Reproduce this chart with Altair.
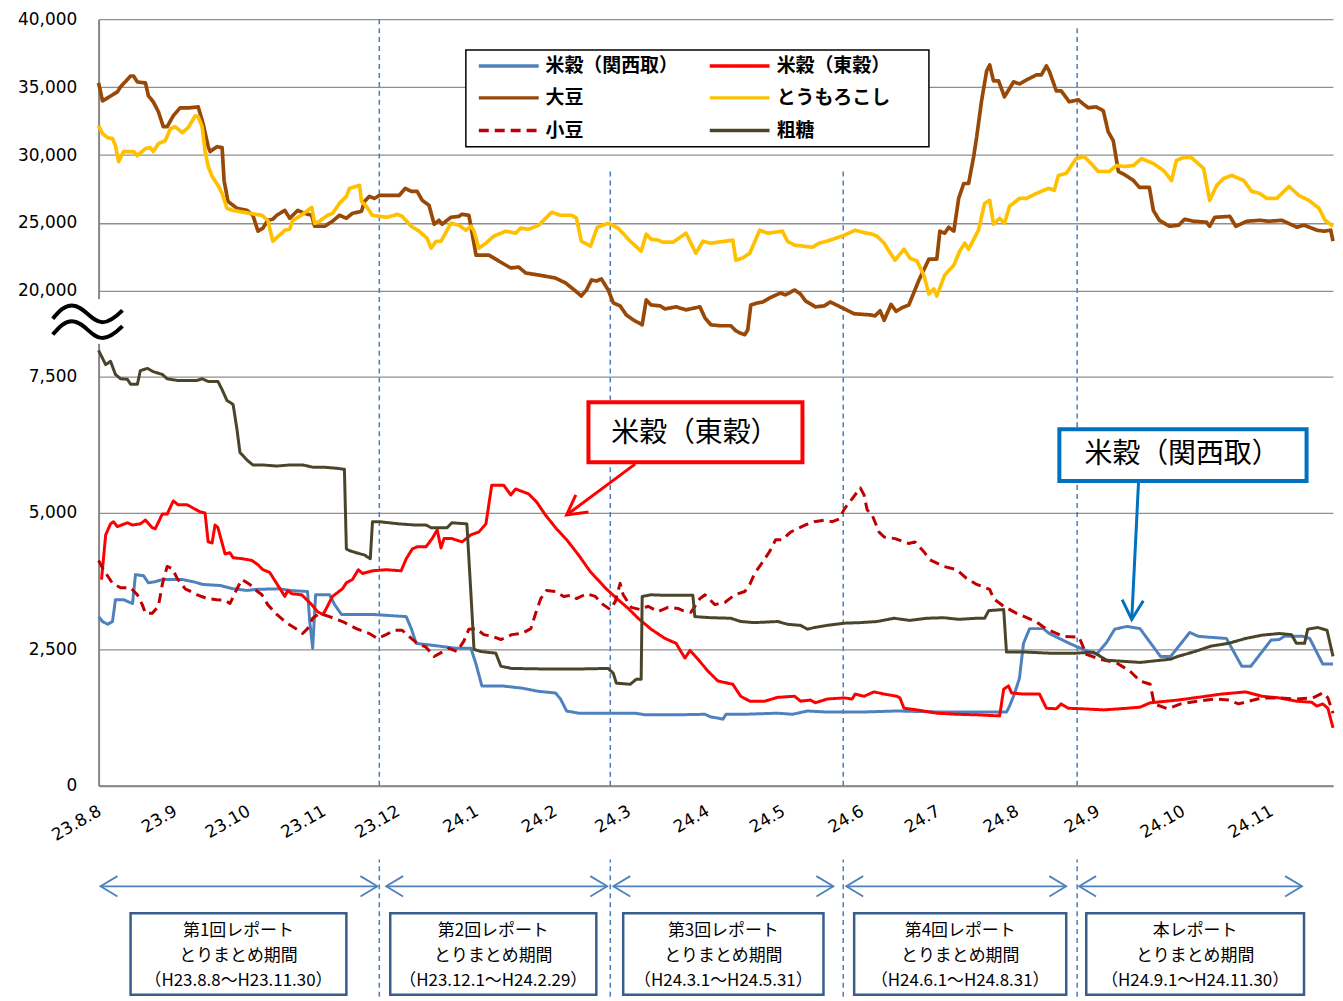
import altair as alt
import pandas as pd

BASE = pd.Timestamp("2011-08-08")
JP = "Noto Sans CJK JP"

series_names = ["米穀（関西取）", "米穀（東穀）", "大豆", "とうもろこし", "小豆", "粗糖"]
series_colors = ["#4f81bd", "#ff0000", "#984807", "#ffc000", "#c00000", "#4a452a"]
series_dash = [[1, 0], [1, 0], [1, 0], [1, 0], [10, 6], [1, 0]]
series_width = [3, 3, 3.7, 3.7, 3, 3]

# x values: days since 2011-08-08 (H23.8.8); y values: prices
kansai_days = [0, 1.6, 3.7, 5.7, 6.9, 10.2, 13.9, 15.1, 18.4, 20.4, 23.2, 26.1, 34.3, 38.7, 42.8, 49.8, 55.1, 60.8, 64.8, 74.2, 78.3, 85.6, 86.5, 87.7, 88.9, 94.6, 96.7, 99.5, 112.2, 118.9, 125.6, 127.6, 129.5, 138.5, 145.2, 151.1, 153.1, 155.4, 163.3, 171.1, 177.8, 184.4, 186.4, 188.8, 193.5, 205.2, 215.8, 219.8, 232.7, 243.4, 245.7, 248.5, 250.5, 251.7, 259.1, 272.1, 278.0, 283.9, 291.7, 304.7, 319.1, 337.5, 362.2, 363.4, 365.3, 367.3, 368.9, 371.3, 376.7, 379.0, 386.9, 392.1, 396.8, 400.4, 403.2, 407.5, 412.1, 419.3, 422.9, 429.6, 432.5, 437.1, 442.5, 447.9, 451.1, 458.2, 461.1, 462.9, 469.3, 471.8, 476.4, 480]
kansai_vals = [3100, 3010, 2960, 3010, 3410, 3410, 3340, 3870, 3850, 3720, 3740, 3780, 3780, 3740, 3690, 3670, 3610, 3580, 3600, 3610, 3580, 3560, 3010, 2520, 3500, 3500, 3320, 3140, 3140, 3120, 3100, 2880, 2610, 2560, 2520, 2520, 2230, 1830, 1830, 1790, 1730, 1700, 1590, 1370, 1330, 1330, 1330, 1300, 1300, 1310, 1260, 1240, 1220, 1310, 1310, 1330, 1310, 1370, 1350, 1350, 1370, 1350, 1350, 1460, 1680, 1970, 2610, 2880, 2880, 2790, 2610, 2500, 2410, 2630, 2870, 2920, 2880, 2370, 2370, 2810, 2740, 2720, 2700, 2190, 2190, 2670, 2680, 2740, 2740, 2700, 2230, 2230]

tokyo_days = [1.2, 2.9, 4.9, 6.1, 7.7, 11.8, 13.9, 17.1, 19.2, 22.0, 23.2, 26.1, 28.1, 30.6, 32.6, 36.3, 38.7, 41.6, 43.6, 44.9, 46.5, 47.7, 48.9, 51.8, 53.8, 55.1, 59.1, 62.8, 65.3, 67.3, 70.1, 76.3, 77.5, 79.1, 83.2, 87.3, 89.7, 91.8, 92.6, 95.8, 99.9, 101.5, 104.0, 106.4, 108.1, 112.2, 117.7, 123.6, 125.6, 128.0, 129.9, 133.4, 135.8, 137.8, 139.3, 140.5, 143.6, 147.6, 151.1, 154.2, 157.0, 159.3, 164.0, 166.8, 168.7, 173.8, 177.0, 180.5, 184.8, 188.8, 193.5, 198.2, 204.4, 209.1, 213.1, 217.0, 222.1, 227.6, 232.0, 233.9, 235.5, 237.5, 240.6, 244.6, 248.5, 254.4, 257.5, 261.1, 267.0, 272.1, 278.8, 281.1, 285.1, 287.0, 291.7, 298.4, 301.5, 302.7, 306.2, 310.1, 314.1, 319.1, 320.3, 321.9, 327.0, 334.8, 342.6, 350.5, 359.5, 361.1, 363.0, 364.2, 368.9, 375.2, 377.9, 381.8, 383.7, 386.5, 392.1, 399.3, 407.5, 412.1, 415.7, 425.4, 432.5, 440.7, 449.3, 455.0, 461.1, 467.1, 472.5, 474.3, 476.4, 478.2, 480]
tokyo_vals = [3780, 4600, 4800, 4840, 4750, 4820, 4780, 4800, 4870, 4730, 4710, 4980, 4980, 5220, 5150, 5150, 5090, 5020, 5000, 4470, 4450, 4780, 4730, 4250, 4270, 4180, 4160, 4130, 4050, 3960, 3910, 3470, 3580, 3520, 3500, 3320, 3190, 3140, 3190, 3470, 3610, 3720, 3780, 3960, 3890, 3940, 3960, 3940, 4160, 4340, 4380, 4380, 4530, 4690, 4360, 4530, 4530, 4470, 4600, 4650, 4800, 5510, 5510, 5330, 5440, 5350, 5200, 4960, 4710, 4510, 4230, 3920, 3610, 3410, 3250, 3070, 2870, 2700, 2610, 2460, 2340, 2480, 2320, 2100, 1920, 1860, 1640, 1550, 1550, 1620, 1640, 1550, 1570, 1520, 1590, 1610, 1590, 1680, 1640, 1720, 1680, 1640, 1610, 1420, 1390, 1330, 1310, 1300, 1280, 1770, 1830, 1700, 1680, 1680, 1420, 1410, 1500, 1420, 1410, 1390, 1420, 1440, 1520, 1570, 1620, 1680, 1720, 1640, 1610, 1550, 1530, 1460, 1500, 1420, 1060]

soy_days = [0, 1.6, 3.7, 7.7, 9.0, 13.1, 14.3, 15.9, 19.2, 20.4, 22.4, 24.5, 26.5, 28.1, 30.6, 33.4, 37.5, 40.8, 42.8, 44.9, 45.7, 48.5, 50.6, 51.4, 53.0, 55.1, 56.7, 60.8, 63.2, 65.3, 67.3, 69.3, 71.4, 73.0, 76.3, 78.3, 81.6, 84.4, 87.3, 88.5, 92.6, 95.8, 98.7, 101.5, 104.0, 107.7, 108.9, 110.9, 113.0, 115.0, 118.9, 122.8, 125.2, 127.6, 129.9, 131.9, 134.6, 136.6, 138.5, 139.7, 143.2, 146.4, 147.5, 150.3, 153.1, 158.2, 162.1, 166.8, 169.9, 172.7, 177.8, 184.4, 188.4, 192.3, 194.6, 196.6, 198.6, 200.5, 202.5, 205.2, 207.2, 209.9, 212.3, 215.0, 218.6, 220.2, 222.1, 225.7, 227.6, 232.0, 235.9, 241.4, 243.4, 245.7, 249.3, 253.6, 255.6, 257.1, 259.1, 260.3, 261.5, 264.2, 266.2, 269.0, 273.2, 275.2, 278.8, 281.1, 283.1, 287.0, 290.5, 292.9, 297.6, 302.3, 308.6, 310.5, 312.5, 314.1, 316.8, 318.8, 321.1, 323.8, 327.8, 331.7, 334.8, 336.0, 337.9, 339.5, 341.5, 343.4, 345.4, 347.3, 349.3, 350.5, 352.4, 354.4, 355.6, 357.1, 359.1, 361.4, 365.0, 367.3, 370.8, 374.0, 375.9, 377.9, 379.0, 381.8, 383.7, 386.9, 390.4, 392.1, 393.9, 396.7, 399.2, 400.9, 402.7, 404.5, 406.6, 409.8, 411.9, 415.4, 416.8, 418.9, 422.5, 425.7, 427.8, 430.9, 435.5, 436.6, 438.4, 443.7, 445.8, 449.7, 454.2, 457.4, 462.0, 467.3, 469.8, 474.4, 476.8, 479.2, 480]
soy_vals = [35310, 33990, 34210, 34650, 35020, 35820, 35820, 35380, 35310, 34360, 33920, 33190, 32090, 32090, 32890, 33480, 33480, 33550, 32310, 30620, 30260, 30620, 30550, 28130, 26590, 26300, 26080, 25930, 25570, 24400, 24620, 25200, 25280, 25570, 25930, 25350, 25930, 25710, 25570, 24760, 24760, 25130, 25570, 25350, 25710, 25860, 26590, 26960, 26810, 27030, 27030, 27030, 27550, 27330, 27330, 26670, 26300, 24910, 25200, 24910, 25420, 25490, 25640, 25570, 22640, 22640, 22200, 21690, 21760, 21320, 21170, 20950, 20590, 20000, 19630, 20070, 20810, 20730, 20880, 20070, 19120, 18900, 18240, 17880, 17510, 19340, 18970, 18900, 18680, 18830, 18610, 18830, 18020, 17510, 17440, 17440, 17070, 16920, 16780, 17140, 18970, 19120, 19190, 19490, 19850, 19710, 20070, 19780, 19270, 18830, 18900, 19190, 18760, 18320, 18240, 18170, 18540, 17840, 19010, 18500, 18760, 18970, 20810, 22340, 22340, 24400, 24250, 24690, 24400, 26810, 27910, 27910, 29890, 31360, 33990, 36190, 36630, 35460, 35460, 34290, 35390, 35240, 35600, 35900, 35900, 36560, 36190, 34730, 34730, 33920, 34070, 33770, 33480, 33550, 33260, 31720, 31060, 28790, 28570, 28130, 27620, 27620, 25930, 25200, 24760, 24840, 25280, 25130, 25060, 24760, 25420, 25490, 24760, 25130, 25200, 25130, 25200, 24690, 24840, 24470, 24400, 24470, 23660]

corn_days = [0, 1.6, 3.7, 5.7, 6.9, 8.2, 10.2, 14.3, 15.9, 19.2, 21.2, 22.4, 24.5, 27.3, 29.4, 31.4, 34.3, 36.7, 39.6, 40.8, 42.4, 43.6, 44.9, 46.5, 48.9, 50.6, 52.6, 55.1, 62.0, 66.9, 69.3, 71.4, 76.3, 78.3, 79.5, 82.4, 87.3, 88.5, 90.5, 93.8, 95.8, 98.7, 101.5, 102.8, 106.9, 107.7, 109.7, 112.1, 115.0, 118.1, 122.1, 124.0, 127.6, 130.7, 133.8, 135.4, 137.4, 139.3, 143.2, 146.4, 149.1, 151.1, 152.3, 154.2, 157.0, 160.1, 164.8, 168.7, 170.7, 173.8, 177.8, 182.9, 186.4, 190.7, 192.7, 194.6, 198.2, 200.9, 205.2, 209.1, 213.9, 218.2, 220.2, 222.1, 224.9, 226.8, 230.8, 235.9, 239.8, 242.6, 245.7, 251.2, 254.4, 255.6, 258.3, 261.1, 265.0, 268.2, 274.0, 276.0, 278.8, 285.8, 288.6, 292.9, 298.4, 302.7, 307.4, 309.4, 311.3, 314.1, 316.0, 318.4, 321.9, 324.2, 327.0, 329.7, 331.7, 333.6, 334.8, 337.9, 341.5, 343.8, 345.8, 347.3, 351.2, 353.6, 355.6, 357.1, 359.5, 361.4, 363.4, 367.3, 370.0, 373.2, 376.7, 379.0, 381.0, 382.6, 385.7, 389.6, 392.5, 394.9, 397.4, 401.3, 403.8, 406.6, 409.8, 412.6, 416.8, 420.4, 423.2, 424.9, 427.4, 430.2, 434.5, 436.6, 439.1, 441.5, 444.4, 448.6, 451.4, 454.2, 456.7, 460.2, 464.5, 468.0, 471.5, 475.1, 477.2, 480]
corn_vals = [32160, 31580, 31280, 31210, 30700, 29520, 30260, 30260, 29960, 30480, 30550, 30260, 30840, 31060, 31940, 32090, 31650, 32020, 32890, 32820, 32090, 30330, 29160, 28430, 27770, 27180, 26080, 25930, 25710, 25570, 25200, 23660, 24470, 24540, 25200, 25490, 26150, 24980, 25130, 25570, 25710, 26450, 26960, 27550, 27770, 26590, 26230, 25570, 25490, 25420, 25640, 25490, 24760, 24400, 23880, 23150, 23660, 23660, 24980, 24840, 24470, 24760, 24400, 23150, 23520, 24030, 24400, 24250, 24620, 24540, 24840, 25790, 25570, 25570, 25350, 23660, 23300, 24690, 24980, 24620, 23660, 22930, 24180, 23810, 23740, 23590, 23590, 24250, 22780, 23660, 23520, 23660, 23740, 22270, 22420, 22780, 24470, 24250, 24400, 23660, 23370, 23220, 23520, 23740, 24100, 24470, 24250, 24180, 24030, 23520, 22930, 22270, 23080, 22420, 22200, 21170, 19780, 20150, 19630, 21170, 21900, 22930, 23520, 23080, 24470, 26450, 26670, 24910, 25350, 24980, 26230, 26810, 26810, 27110, 27400, 27550, 27400, 28500, 28650, 29740, 29890, 29380, 28790, 28790, 29230, 29160, 29230, 29740, 29380, 28860, 28130, 29600, 29820, 29820, 29010, 26670, 27770, 28280, 28500, 28130, 27330, 27180, 26810, 26810, 27690, 27030, 26670, 26080, 25200, 24760]

adzuki_days = [0, 2.0, 5.7, 9.0, 13.1, 15.9, 17.9, 19.2, 22.0, 24.5, 26.1, 28.1, 30.2, 32.2, 35.5, 40.4, 44.5, 48.5, 51.8, 53.8, 56.7, 58.7, 62.0, 64.0, 66.9, 69.3, 73.0, 77.1, 81.2, 83.6, 85.6, 87.7, 90.5, 94.6, 99.9, 105.6, 110.9, 114.2, 117.7, 120.9, 124.0, 127.6, 129.9, 133.4, 136.6, 139.7, 142.5, 145.6, 148.3, 150.3, 153.1, 156.2, 159.3, 162.9, 167.2, 171.1, 174.7, 176.6, 178.6, 180.9, 184.4, 187.6, 190.7, 192.7, 196.6, 200.1, 203.2, 206.0, 208.0, 209.9, 211.1, 214.3, 217.8, 220.9, 224.9, 228.8, 232.7, 234.7, 237.9, 241.4, 243.4, 247.3, 251.2, 255.2, 259.1, 261.1, 263.0, 265.4, 268.9, 271.3, 274.0, 277.2, 279.9, 283.1, 286.6, 290.5, 293.7, 296.4, 298.4, 301.5, 304.7, 306.2, 307.4, 309.4, 312.1, 314.1, 318.4, 323.8, 326.2, 329.7, 332.1, 337.5, 342.6, 346.5, 350.5, 355.6, 357.1, 361.1, 366.2, 373.8, 377.9, 384.5, 390.7, 393.2, 397.9, 403.9, 408.6, 412.1, 415.7, 417.1, 421.8, 426.4, 432.5, 438.5, 443.2, 446.8, 450.4, 455.0, 461.1, 467.1, 472.9, 476.4, 478.2, 480]
adzuki_vals = [4130, 3960, 3710, 3630, 3630, 3500, 3320, 3160, 3160, 3290, 3690, 4020, 3980, 3800, 3610, 3500, 3430, 3410, 3400, 3340, 3610, 3780, 3690, 3600, 3500, 3320, 3140, 2980, 2870, 2790, 2880, 3070, 3160, 3100, 3010, 2880, 2790, 2700, 2770, 2850, 2850, 2700, 2610, 2540, 2370, 2450, 2520, 2460, 2650, 2870, 2880, 2770, 2740, 2680, 2770, 2790, 2880, 3160, 3430, 3580, 3560, 3470, 3490, 3430, 3520, 3470, 3320, 3230, 3380, 3710, 3500, 3270, 3230, 3290, 3190, 3270, 3250, 3210, 3180, 3430, 3500, 3320, 3360, 3500, 3560, 3690, 3890, 4050, 4290, 4510, 4510, 4650, 4710, 4780, 4840, 4870, 4840, 4890, 5070, 5260, 5460, 5330, 5060, 4960, 4650, 4560, 4530, 4440, 4470, 4290, 4140, 4020, 3960, 3800, 3690, 3600, 3430, 3290, 3160, 3010, 2870, 2740, 2720, 2410, 2320, 2250, 2100, 1920, 1860, 1500, 1410, 1500, 1550, 1590, 1570, 1500, 1550, 1610, 1610, 1590, 1610, 1700, 1610, 1330]

sugar_days = [0, 2.9, 4.9, 6.9, 9.0, 11.8, 13.1, 15.9, 17.1, 20.0, 22.4, 26.1, 28.1, 32.2, 36.3, 40.4, 42.4, 44.9, 48.9, 50.6, 52.6, 55.1, 56.7, 57.9, 60.8, 63.2, 67.3, 73.0, 78.3, 83.6, 87.7, 91.8, 97.5, 100.7, 101.5, 102.8, 105.6, 108.9, 111.3, 112.2, 115.0, 118.9, 122.8, 128.7, 133.4, 135.4, 141.7, 143.6, 149.5, 150.3, 151.5, 152.3, 155.0, 160.9, 162.9, 167.2, 180.5, 193.5, 205.2, 207.2, 208.4, 213.9, 216.2, 218.2, 218.6, 222.1, 227.6, 232.7, 238.6, 239.4, 245.7, 253.6, 257.5, 263.0, 272.1, 276.0, 281.1, 283.9, 286.6, 291.7, 298.4, 304.7, 311.3, 318.0, 324.2, 330.9, 337.5, 343.4, 350.5, 353.6, 355.2, 361.1, 362.2, 370.0, 379.0, 389.6, 395.7, 400.4, 406.4, 412.1, 422.9, 425.4, 431.4, 437.1, 443.2, 449.3, 455.0, 461.1, 465.4, 467.1, 470.0, 471.1, 474.6, 477.9, 480]
sugar_vals = [7980, 7720, 7780, 7540, 7460, 7450, 7360, 7360, 7610, 7650, 7590, 7540, 7460, 7430, 7430, 7430, 7460, 7410, 7410, 7260, 7060, 6990, 6530, 6110, 5970, 5880, 5880, 5860, 5880, 5880, 5840, 5840, 5820, 5800, 4340, 4310, 4270, 4230, 4160, 4840, 4840, 4820, 4800, 4780, 4780, 4730, 4730, 4820, 4800, 4160, 3190, 2500, 2460, 2430, 2190, 2150, 2140, 2140, 2150, 2060, 1880, 1860, 1950, 1950, 3470, 3500, 3490, 3490, 3490, 3100, 3080, 3070, 3010, 2990, 3010, 2960, 2940, 2870, 2900, 2940, 2980, 2990, 3010, 3070, 3030, 3070, 3080, 3050, 3070, 3070, 3210, 3230, 2450, 2450, 2430, 2430, 2450, 2300, 2280, 2260, 2320, 2370, 2460, 2560, 2610, 2700, 2760, 2790, 2770, 2610, 2610, 2870, 2900, 2850, 2370]

all_days = [kansai_days, tokyo_days, soy_days, corn_days, adzuki_days, sugar_days]
all_vals = [kansai_vals, tokyo_vals, soy_vals, corn_vals, adzuki_vals, sugar_vals]

# axis ticks
y_ticks = [0, 2500, 5000, 7500, 20000, 25000, 30000, 35000, 40000]
tick_dates = ["2011-08-08", "2011-09-08", "2011-10-08", "2011-11-08", "2011-12-08", "2012-01-08",
              "2012-02-08", "2012-03-08", "2012-04-08", "2012-05-08", "2012-06-08", "2012-07-08",
              "2012-08-08", "2012-09-08", "2012-10-08", "2012-11-08"]
tick_labels = ["23.8.8", "23.9", "23.10", "23.11", "23.12", "24.1", "24.2", "24.3", "24.4",
               "24.5", "24.6", "24.7", "24.8", "24.9", "24.10", "24.11"]

# report periods
period_bounds = ["2011-08-08", "2011-12-01", "2012-03-01", "2012-06-01", "2012-09-01", "2012-11-30"]
period_line_top = [40000, 29000, 29000, 39600]
period_title = ["第1回レポート", "第2回レポート", "第3回レポート", "第4回レポート", "本レポート"]
period_range = ["（H23.8.8～H23.11.30）", "（H23.12.1～H24.2.29）", "（H24.3.1～H24.5.31）",
                "（H24.6.1～H24.8.31）", "（H24.9.1～H24.11.30）"]
arrow_start = [0.8, 117.7, 207.2, 299.2, 390.7]
arrow_end = [114.2, 204.8, 294.1, 385.7, 469.1]
box_start = [13.1, 119.3, 211.1, 302.3, 393.2]
box_end = [101.5, 200.5, 290.2, 385.7, 469.8]


def dayof(s):
    return float((pd.Timestamp(s) - BASE).days)


tick_days = [dayof(s) for s in tick_dates]
bound_days = [dayof(s) for s in period_bounds]

rows = []
for name, days, vals, w in zip(series_names, all_days, all_vals, series_width):
    for d, v in zip(days, vals):
        rows.append({"series": name, "day": d, "v": v, "sw": w})
series_df = pd.DataFrame(rows)

label_expr = "''"
for d, lab in reversed(list(zip(tick_days, tick_labels))):
    label_expr = f"(abs(datum.value - {d}) < 0.5) ? '{lab}' : {label_expr}"

W = 1240
xscale = alt.Scale(domain=bound_days, range=[0, 282, 514, 748, 983, W], nice=False, zero=False)
yscale = alt.Scale(domain=[0, 8150, 16600, 40000], range=[770, 323.4, 319.4, 0], nice=False, zero=False)

xaxis = alt.Axis(values=tick_days, labelExpr=label_expr, labelAngle=330,
                 labelAlign="right", labelBaseline="top", labelPadding=17, labelOffset=-3, labelFontSize=17,
                 labelFont="DejaVu Sans", grid=False, ticks=False, title=None, labelOverlap=False,
                 domainColor="#878787", domainWidth=2, labelColor="black")
yaxis = alt.Axis(values=y_ticks, format=",.0f", labelFontSize=17, labelFont="DejaVu Sans", labelPadding=22,
                 grid=True, gridColor="#8f8f8f", gridWidth=1.3, ticks=False, title=None,
                 domainColor="#878787", domainWidth=2, labelOverlap=False, labelColor="black")

X = alt.X("day:Q", scale=xscale, axis=xaxis)
Y = alt.Y("v:Q", scale=yscale, axis=yaxis)
color_enc = alt.Color("series:N", scale=alt.Scale(domain=series_names, range=series_colors), legend=None)
dash_enc = alt.StrokeDash("series:N", scale=alt.Scale(domain=series_names, range=series_dash), legend=None)

# period dashed lines in main plot
period_df = pd.DataFrame({"day": bound_days[1:5], "v": 0, "v2": period_line_top})
period_rules = alt.Chart(period_df).mark_rule(color="#4a7ebb", strokeDash=[5, 4], strokeWidth=1.5).encode(
    x=X, y=Y, y2=alt.Y2("v2:Q"))

lines = alt.Chart(series_df).mark_line(strokeJoin="round").encode(
    x=X, y=Y, color=color_enc, strokeDash=dash_enc,
    strokeWidth=alt.StrokeWidth("sw:Q", scale=None, legend=None), detail="series:N")

# legend
leg_row_v = [36560, 34210, 31800]
leg_line = [(154.2, 177.8), (245.3, 268.9)]
leg_label = [180.5, 271.7]
leg_rows, leg_lab_rows = [], []
for i, name in enumerate(series_names):
    c, r = i % 2, i // 2
    leg_rows.append({"series": name, "day": leg_line[c][0], "day2": leg_line[c][1], "v": leg_row_v[r]})
    leg_lab_rows.append({"series": name, "day": leg_label[c], "v": leg_row_v[r]})
leg_box = alt.Chart(pd.DataFrame({"day": [149.1], "day2": [331.7], "v": [30620], "v2": [37730]})).mark_rect(
    fill="white", stroke="black", strokeWidth=1.5).encode(x=X, x2="day2:Q", y=Y, y2="v2:Q")
leg_rules = alt.Chart(pd.DataFrame(leg_rows)).mark_rule(strokeWidth=3.5).encode(
    x=X, x2="day2:Q", y=Y, color=color_enc, strokeDash=dash_enc)
leg_text = alt.Chart(pd.DataFrame(leg_lab_rows)).mark_text(
    align="left", baseline="middle", font=JP, fontSize=19, fontWeight="bold", color="black").encode(
    x=X, y=Y, text="series:N")

# callouts
call_df = pd.DataFrame({
    "day": [197.4, 383.0], "day2": [281.9, 470.7],
    "v": [5930, 5585], "v2": [7030, 6534], "col": ["#ff0000", "#0070c0"],
})
call_box = alt.Chart(call_df).mark_rect(fill="white", strokeWidth=4).encode(
    x=X, x2="day2:Q", y=Y, y2="v2:Q", stroke=alt.Stroke("col:N", scale=None))
call_text_df = pd.DataFrame({"day": [239.4, 426.9], "v": [6440, 6060],
                             "label": ["米穀（東穀）", "米穀（関西取）"]})
call_text = alt.Chart(call_text_df).mark_text(font=JP, fontSize=28, color="black", baseline="middle").encode(
    x=X, y=Y, text="label:N")
call_arrow_df = pd.DataFrame({
    "day": [215.8, 411.6], "day2": [188.8, 409.2],
    "v": [5895, 5585], "v2": [4964, 3048], "col": ["#ff0000", "#0070c0"],
})
call_shaft = alt.Chart(call_arrow_df).mark_rule(strokeWidth=3).encode(
    x=X, x2="day2:Q", y=Y, y2="v2:Q", stroke=alt.Stroke("col:N", scale=None))
head_df = pd.DataFrame({"day": [188.8, 409.2], "v": [4964, 3048], "col": ["#ff0000", "#0070c0"], "ang": [143.5, 92.9]})
call_head = alt.Chart(head_df).mark_point(
    shape="M-1,-0.55L0,0L-1,0.55", filled=False, size=1500, strokeWidth=3, opacity=1).encode(
    x=X, y=Y, angle=alt.Angle("ang:Q", scale=None), stroke=alt.Stroke("col:N", scale=None))

# axis break mark (two wavy strokes drawn as symbols)
WAVE = "M-1,0.14C-0.8,-0.1,-0.65,-0.24,-0.45,-0.24C-0.1,-0.24,0.1,0.24,0.43,0.24C0.65,0.24,0.85,0.05,1,-0.1"
brk_cover = alt.Chart(pd.DataFrame({"day": [-2], "day2": [1], "v": [19400], "v2": [8100]})).mark_rect(
    fill="white").encode(x=X, x2="day2:Q", y=Y, y2="v2:Q")
brk = alt.Chart(pd.DataFrame({"day": [-4.5, -4.5], "v": [18320, 17150]})).mark_point(
    shape=WAVE, filled=False, size=4900, strokeWidth=4, color="black", opacity=1).encode(x=X, y=Y)

main = alt.layer(period_rules, lines, leg_box, leg_rules, leg_text, call_box, call_text,
                 call_shaft, call_head, brk_cover, brk).properties(width=W, height=770)

# bottom panel with report periods
BH = 150
BX = alt.X("day:Q", scale=xscale, axis=None)
BY = alt.Y("py:Q", scale=alt.Scale(domain=[0, BH], nice=False, zero=False), axis=None)
bdash_df = pd.DataFrame({"day": bound_days[1:5], "py": 0, "py2": 138})
b_dash = alt.Chart(bdash_df).mark_rule(color="#4a7ebb", strokeDash=[5, 4], strokeWidth=1.5).encode(
    x=BX, y=BY, y2="py2:Q")
arr_df = pd.DataFrame({"day": arrow_start, "day2": arrow_end, "py": 111})
b_arrow = alt.Chart(arr_df).mark_rule(color="#4f81bd", strokeWidth=1.8).encode(x=BX, x2="day2:Q", y=BY)
b_head_l = alt.Chart(arr_df).mark_point(shape="M1,-0.6L0,0L1,0.6", filled=False, size=1156,
                                        color="#4f81bd", strokeWidth=1.8, opacity=1).encode(x=BX, y=BY)
b_head_r = alt.Chart(pd.DataFrame({"day": arrow_end, "py": 111})).mark_point(
    shape="M-1,-0.6L0,0L-1,0.6", filled=False, size=1156, color="#4f81bd", strokeWidth=1.8, opacity=1).encode(x=BX, y=BY)
box_df = pd.DataFrame({"day": box_start, "day2": box_end, "py": 2, "py2": 84})
b_box = alt.Chart(box_df).mark_rect(fill="white", stroke="#385d8a", strokeWidth=2.5).encode(
    x=BX, x2="day2:Q", y=BY, y2="py2:Q")
txt_rows = []
for s, e, t1, t3 in zip(box_start, box_end, period_title, period_range):
    for py, t in zip([66, 41, 16], [t1, "とりまとめ期間", t3]):
        txt_rows.append({"day": (s + e) / 2, "py": py, "t": t})
b_text = alt.Chart(pd.DataFrame(txt_rows)).mark_text(font=JP, fontSize=17, color="black", baseline="middle").encode(
    x=BX, y=BY, text="t:N")
bottom = alt.layer(b_dash, b_arrow, b_head_l, b_head_r, b_box, b_text).properties(width=W, height=BH)

chart = alt.vconcat(main, bottom, spacing=4).resolve_scale(x="independent", y="independent").properties(
    padding={"left": 9, "right": 0, "top": 0, "bottom": 0}, background="white"
).configure_view(stroke=None)

chart.save("out.html", embed_options={"renderer": "svg", "actions": False})
